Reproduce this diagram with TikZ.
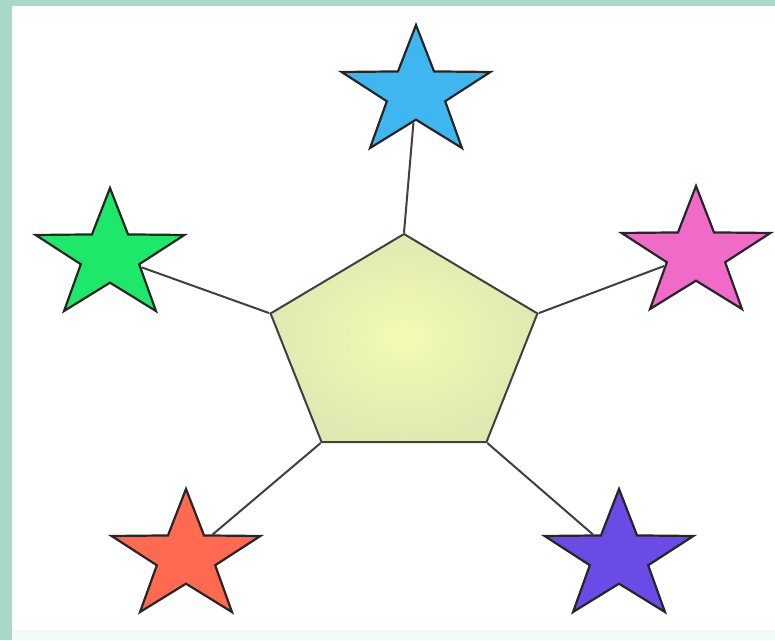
\documentclass[tikz,border=0pt]{standalone}
\usetikzlibrary{shapes.geometric}
\definecolor{frameteal}{RGB}{169,217,198}
\definecolor{framepale}{RGB}{240,251,246}
\definecolor{skyblue}{RGB}{64,182,240}
\definecolor{leafgreen}{RGB}{30,232,106}
\definecolor{rosepink}{RGB}{240,107,200}
\definecolor{coralred}{RGB}{255,106,80}
\definecolor{violet}{RGB}{106,75,230}
\definecolor{pentalight}{RGB}{243,251,180}
\definecolor{pentadark}{RGB}{225,232,178}

\begin{document}
\begin{tikzpicture}[x=1pt,y=-1pt,
  starnode/.style={star,star points=5,star point ratio=2.55,minimum size=136pt,inner sep=0pt,
    draw=black!85,line width=2.2pt,xscale=1.15,transform shape},
  link/.style={draw=black!75,line width=2pt}]
\useasboundingbox (0,0) rectangle (775,640);
\fill[white] (0,0) rectangle (775,640);
\fill[framepale] (0,630) rectangle (775,640);
\fill[frameteal] (0,0) rectangle (12,640);
\fill[frameteal] (0,0) rectangle (775,6);
% centre and the five stars
\node (centre) [regular polygon,regular polygon sides=5,minimum size=230pt,inner sep=0pt,
  shade,inner color=pentalight,outer color=pentadark,draw=black!75,line width=2pt,
  xscale=1.22,transform shape] at (404,349) {};
\node (topstar) [starnode,fill=skyblue] at (416,93) {};
\node (leftstar) [starnode,fill=leafgreen] at (110,256) {};
\node (rightstar) [starnode,fill=rosepink] at (696,254) {};
\node (lowleft) [starnode,fill=coralred] at (186,557) {};
\node (lowright) [starnode,fill=violet] at (619,557) {};
\draw[link] (centre.corner 1)--(topstar);
\draw[link] (centre.corner 2)--(leftstar);
\draw[link] (centre.corner 5)--(rightstar);
\draw[link] (centre.corner 3)--(lowleft);
\draw[link] (centre.corner 4)--(lowright);
\end{tikzpicture}
\end{document}
